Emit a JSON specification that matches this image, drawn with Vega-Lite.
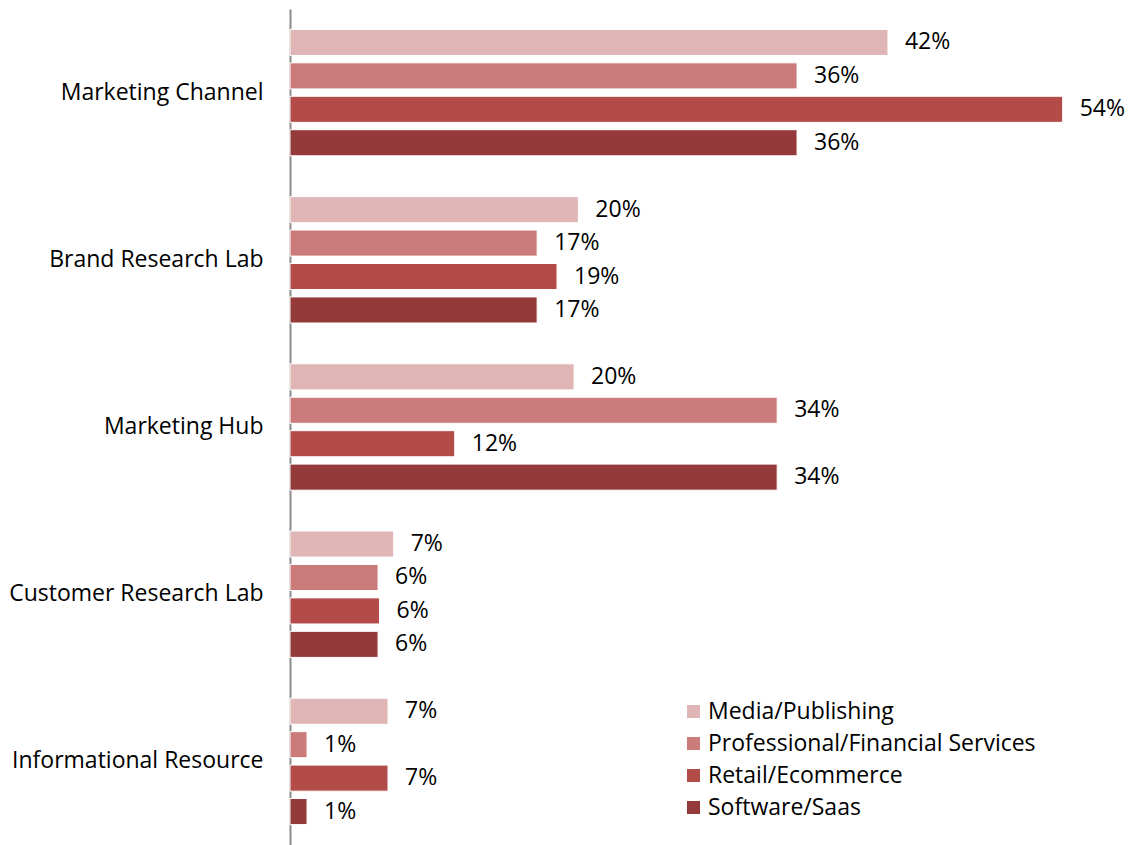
{
  "$schema": "https://vega.github.io/schema/vega-lite/v6.json",
  "autosize": {"type": "none"},
  "padding": {"left": 290, "top": 9, "right": 0, "bottom": 0},
  "width": 838,
  "height": 836,
  "background": "white",
  "config": {"view": {"stroke": null}, "font": "Open Sans"},
  "data": {"values": [
    {"cat": "Marketing Channel", "series": "Media/Publishing", "v": 0.421},
    {"cat": "Marketing Channel", "series": "Professional/Financial Services", "v": 0.357},
    {"cat": "Marketing Channel", "series": "Retail/Ecommerce", "v": 0.544},
    {"cat": "Marketing Channel", "series": "Software/Saas", "v": 0.357},
    {"cat": "Brand Research Lab", "series": "Media/Publishing", "v": 0.203},
    {"cat": "Brand Research Lab", "series": "Professional/Financial Services", "v": 0.174},
    {"cat": "Brand Research Lab", "series": "Retail/Ecommerce", "v": 0.188},
    {"cat": "Brand Research Lab", "series": "Software/Saas", "v": 0.174},
    {"cat": "Marketing Hub", "series": "Media/Publishing", "v": 0.2},
    {"cat": "Marketing Hub", "series": "Professional/Financial Services", "v": 0.343},
    {"cat": "Marketing Hub", "series": "Retail/Ecommerce", "v": 0.116},
    {"cat": "Marketing Hub", "series": "Software/Saas", "v": 0.343},
    {"cat": "Customer Research Lab", "series": "Media/Publishing", "v": 0.073},
    {"cat": "Customer Research Lab", "series": "Professional/Financial Services", "v": 0.062},
    {"cat": "Customer Research Lab", "series": "Retail/Ecommerce", "v": 0.063},
    {"cat": "Customer Research Lab", "series": "Software/Saas", "v": 0.062},
    {"cat": "Informational Resource", "series": "Media/Publishing", "v": 0.069},
    {"cat": "Informational Resource", "series": "Professional/Financial Services", "v": 0.012},
    {"cat": "Informational Resource", "series": "Retail/Ecommerce", "v": 0.069},
    {"cat": "Informational Resource", "series": "Software/Saas", "v": 0.012}
  ]},
  "encoding": {
    "y": {
      "field": "cat", "type": "nominal", "sort": null,
      "scale": {"paddingInner": 0.2, "paddingOuter": 0.1},
      "axis": {
        "title": null, "ticks": false, "labelFontSize": 23, "labelColor": "#000000",
        "labelPadding": 27, "labelLimit": 400, "domainColor": "#8c8c8c", "domainWidth": 2, "labelFont": "Open Sans"
      }
    },
    "yOffset": {
      "field": "series", "type": "nominal", "sort": null,
      "scale": {"paddingInner": 0.22, "paddingOuter": 0.11}
    },
    "x": {
      "field": "v", "type": "quantitative",
      "scale": {"domain": [0, 0.59], "nice": false},
      "axis": null
    }
  },
  "layer": [
    {
      "mark": {"type": "bar", "stroke": "#ffffff", "strokeWidth": 1},
      "encoding": {
        "color": {
          "field": "series", "type": "nominal", "sort": null,
          "scale": {
            "domain": ["Media/Publishing", "Professional/Financial Services", "Retail/Ecommerce", "Software/Saas"],
            "range": ["#DFB5B5", "#CB7B7A", "#B34B49", "#953A3A"]
          },
          "legend": {
            "title": null, "orient": "none", "legendX": 392, "legendY": 691,
            "symbolType": "square", "symbolSize": 170, "symbolStrokeWidth": 0,
            "labelFontSize": 23, "labelColor": "#000000", "labelFont": "Open Sans",
            "labelLimit": 500, "rowPadding": 8, "labelOffset": 3
          }
        }
      }
    },
    {
      "mark": {"type": "text", "align": "left", "dx": 17, "fontSize": 23, "color": "#000000", "font": "Open Sans"},
      "encoding": {
        "text": {"field": "v", "type": "quantitative", "format": ".0%"},
        "detail": {"field": "series"}
      }
    }
  ]
}
